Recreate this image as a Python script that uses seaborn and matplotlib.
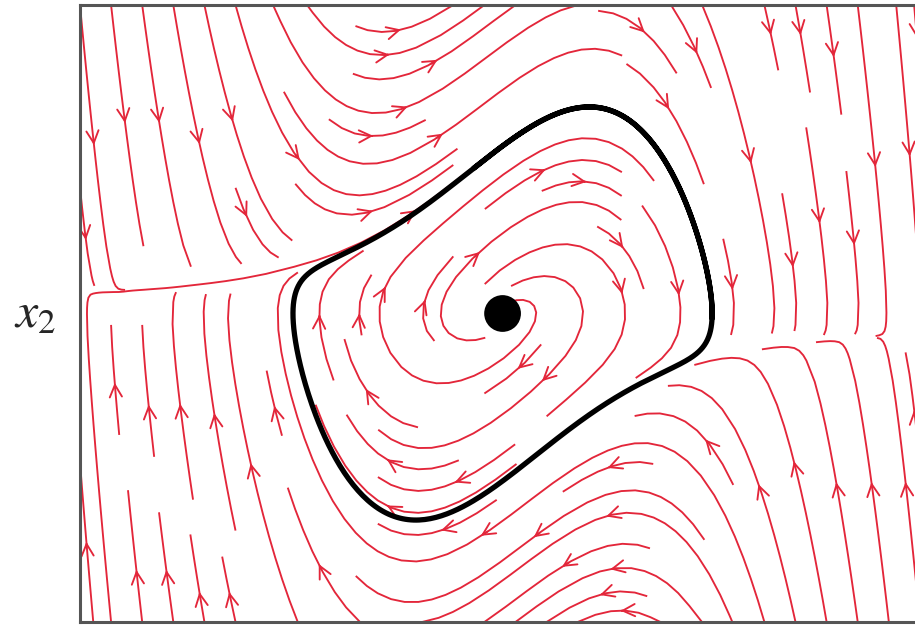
import numpy as np
import matplotlib
matplotlib.use("Agg")
import matplotlib.pyplot as plt
import seaborn as sns
import pandas as pd

# Van der Pol oscillator:  x1' = x2,  x2' = mu*(1 - x1^2)*x2 - x1
mu = 1.0
x1_range = [-4.05, 4.0]
x2_range = [-4.0, 4.0]
equilibrium = [0.0, 0.0]
axis_label = r"$x_2$"


def field(x1, x2):
    return x2, mu * (1.0 - x1 ** 2) * x2 - x1


def rk4_orbit(start, dt, steps):
    pts = np.empty((steps, 2))
    p = np.array(start, dtype=float)
    for i in range(steps):
        pts[i] = p
        k1 = np.array(field(*p))
        k2 = np.array(field(*(p + 0.5 * dt * k1)))
        k3 = np.array(field(*(p + 0.5 * dt * k2)))
        k4 = np.array(field(*(p + dt * k3)))
        p = p + dt / 6.0 * (k1 + 2 * k2 + 2 * k3 + k4)
    return pts


# settle onto the attracting limit cycle, then keep one full loop
orbit = rk4_orbit([2.0, 0.0], 0.01, 6000)
tail = orbit[-800:]
cycle = pd.DataFrame({"x1": tail[:, 0], "x2": tail[:, 1], "order": np.arange(len(tail))})

sns.set_theme(style="white")
plt.rcParams["mathtext.fontset"] = "stix"

fig = plt.figure(figsize=(9.15, 6.27), dpi=100)
ax = fig.add_axes([0.0874, 0.008, 0.918, 0.984])

g1 = np.linspace(x1_range[0], x1_range[1], 200)
g2 = np.linspace(x2_range[0], x2_range[1], 200)
X1, X2 = np.meshgrid(g1, g2)
U, V = field(X1, X2)

kw = dict(density=0.95, color="#e3263a", linewidth=1.35, arrowsize=2.2, arrowstyle="->")
try:
    ax.streamplot(X1, X2, U, V, num_arrows=2, **kw)
except TypeError:
    ax.streamplot(X1, X2, U, V, **kw)

sns.lineplot(data=cycle, x="x1", y="x2", sort=False, color="black", linewidth=3.8,
             ax=ax, zorder=5)
sns.scatterplot(x=[equilibrium[0]], y=[equilibrium[1]], s=700, color="black",
                edgecolor="none", ax=ax, zorder=6)

ax.set_xlim(x1_range)
ax.set_ylim(x2_range)
ax.set_xticks([])
ax.set_yticks([])
ax.set_xlabel("")
ax.set_ylabel(axis_label, rotation=0, fontsize=36, labelpad=32, va="center")
for side in ["left", "top", "bottom"]:
    ax.spines[side].set_color("#555555")
    ax.spines[side].set_linewidth(2.2)
ax.spines["right"].set_visible(False)

fig.savefig("out.png", dpi=100)
